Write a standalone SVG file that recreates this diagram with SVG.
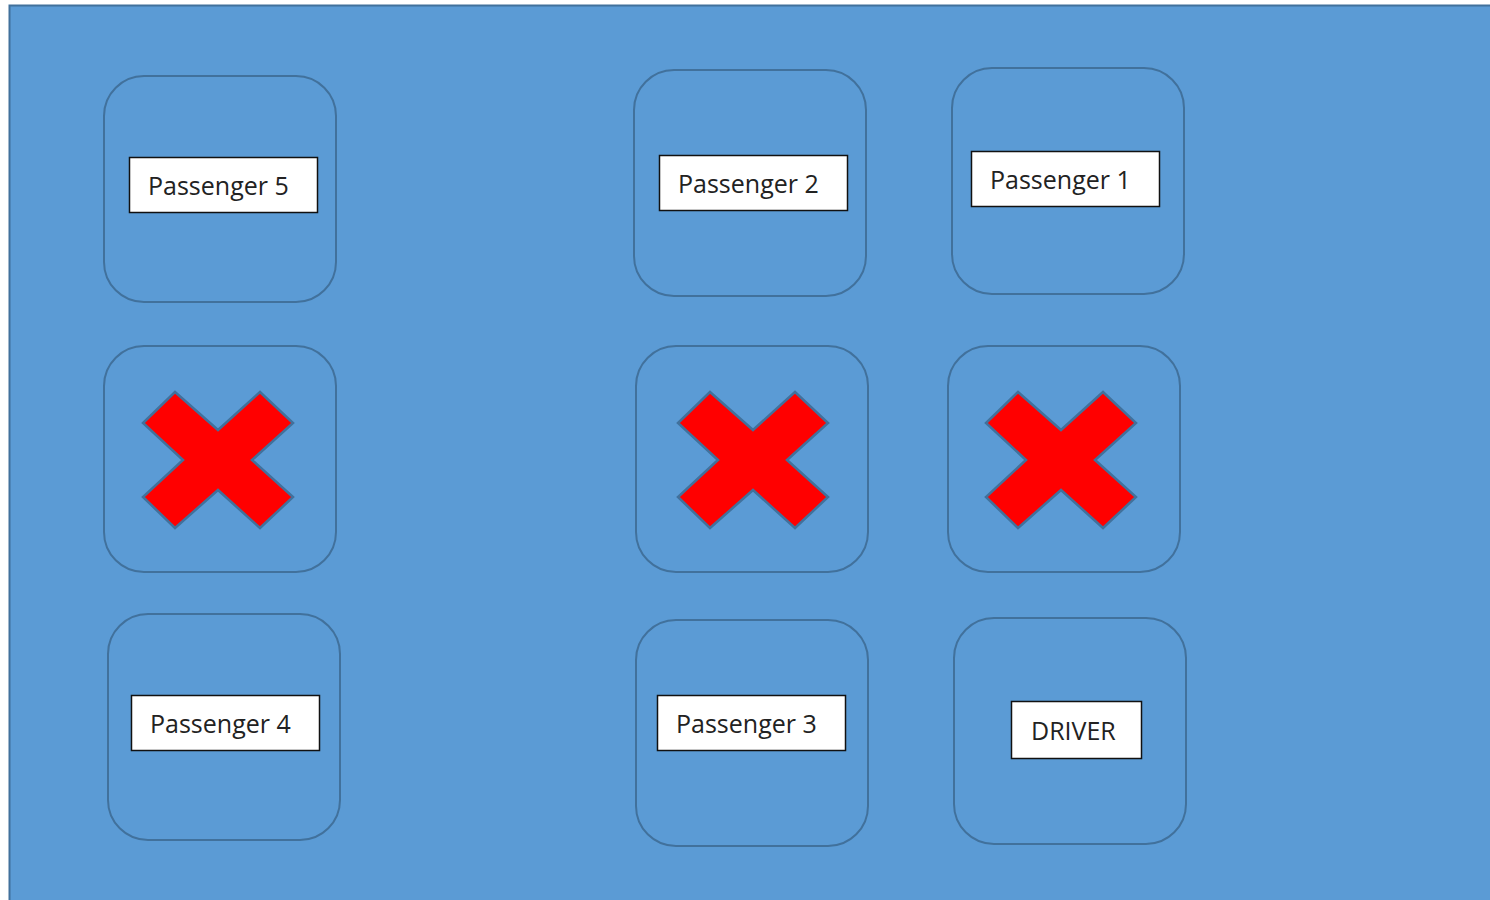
<svg xmlns="http://www.w3.org/2000/svg" width="1490" height="900" viewBox="0 0 1490 900">
<style>
.seat{fill:#5B9BD5;stroke:#41719C;stroke-width:2}
.lbl{fill:#FFFFFF;stroke:#111111;stroke-width:1.5}
.txt{font-family:"Open Sans","Liberation Sans",sans-serif;font-size:25px;fill:#222222}
.x{fill:#FF0000;stroke:#41719C;stroke-width:2.5;stroke-linejoin:miter}
</style>
<defs>
<polygon id="cross" class="x" points="-43,-68 0,-30 42,-68 75,-37 34,0 75,37 42,68 0,30 -43,68 -75,37 -35,0 -75,-37"/>
</defs>
<rect width="1490" height="900" fill="#FFFFFF"/>
<rect x="9.5" y="5.5" width="1490" height="900" fill="#5B9BD5" stroke="#41719C" stroke-width="2"/>
<g id="passenger5">
<rect class="seat" x="104" y="76" width="232" height="226" rx="40"/>
<rect class="lbl" x="129.5" y="157.5" width="188" height="55"/>
<text class="txt" x="148" y="195">Passenger 5</text>
</g>
<g id="passenger2">
<rect class="seat" x="634" y="70" width="232" height="226" rx="40"/>
<rect class="lbl" x="659.5" y="155.5" width="188" height="55"/>
<text class="txt" x="678" y="193">Passenger 2</text>
</g>
<g id="passenger1">
<rect class="seat" x="952" y="68" width="232" height="226" rx="40"/>
<rect class="lbl" x="971.5" y="151.5" width="188" height="55"/>
<text class="txt" x="990" y="189">Passenger 1</text>
</g>
<g id="blocked1">
<rect class="seat" x="104" y="346" width="232" height="226" rx="40"/>
<use href="#cross" x="218" y="460"/>
</g>
<g id="blocked2">
<rect class="seat" x="636" y="346" width="232" height="226" rx="40"/>
<use href="#cross" x="753" y="460"/>
</g>
<g id="blocked3">
<rect class="seat" x="948" y="346" width="232" height="226" rx="40"/>
<use href="#cross" x="1061" y="460"/>
</g>
<g id="passenger4">
<rect class="seat" x="108" y="614" width="232" height="226" rx="40"/>
<rect class="lbl" x="131.5" y="695.5" width="188" height="55"/>
<text class="txt" x="150" y="733">Passenger 4</text>
</g>
<g id="passenger3">
<rect class="seat" x="636" y="620" width="232" height="226" rx="40"/>
<rect class="lbl" x="657.5" y="695.5" width="188" height="55"/>
<text class="txt" x="676" y="733">Passenger 3</text>
</g>
<g id="driver">
<rect class="seat" x="954" y="618" width="232" height="226" rx="40"/>
<rect class="lbl" x="1011.5" y="701.5" width="130" height="57"/>
<text class="txt" x="1031" y="740">DRIVER</text>
</g>
<g id="connectors"/>
</svg>
